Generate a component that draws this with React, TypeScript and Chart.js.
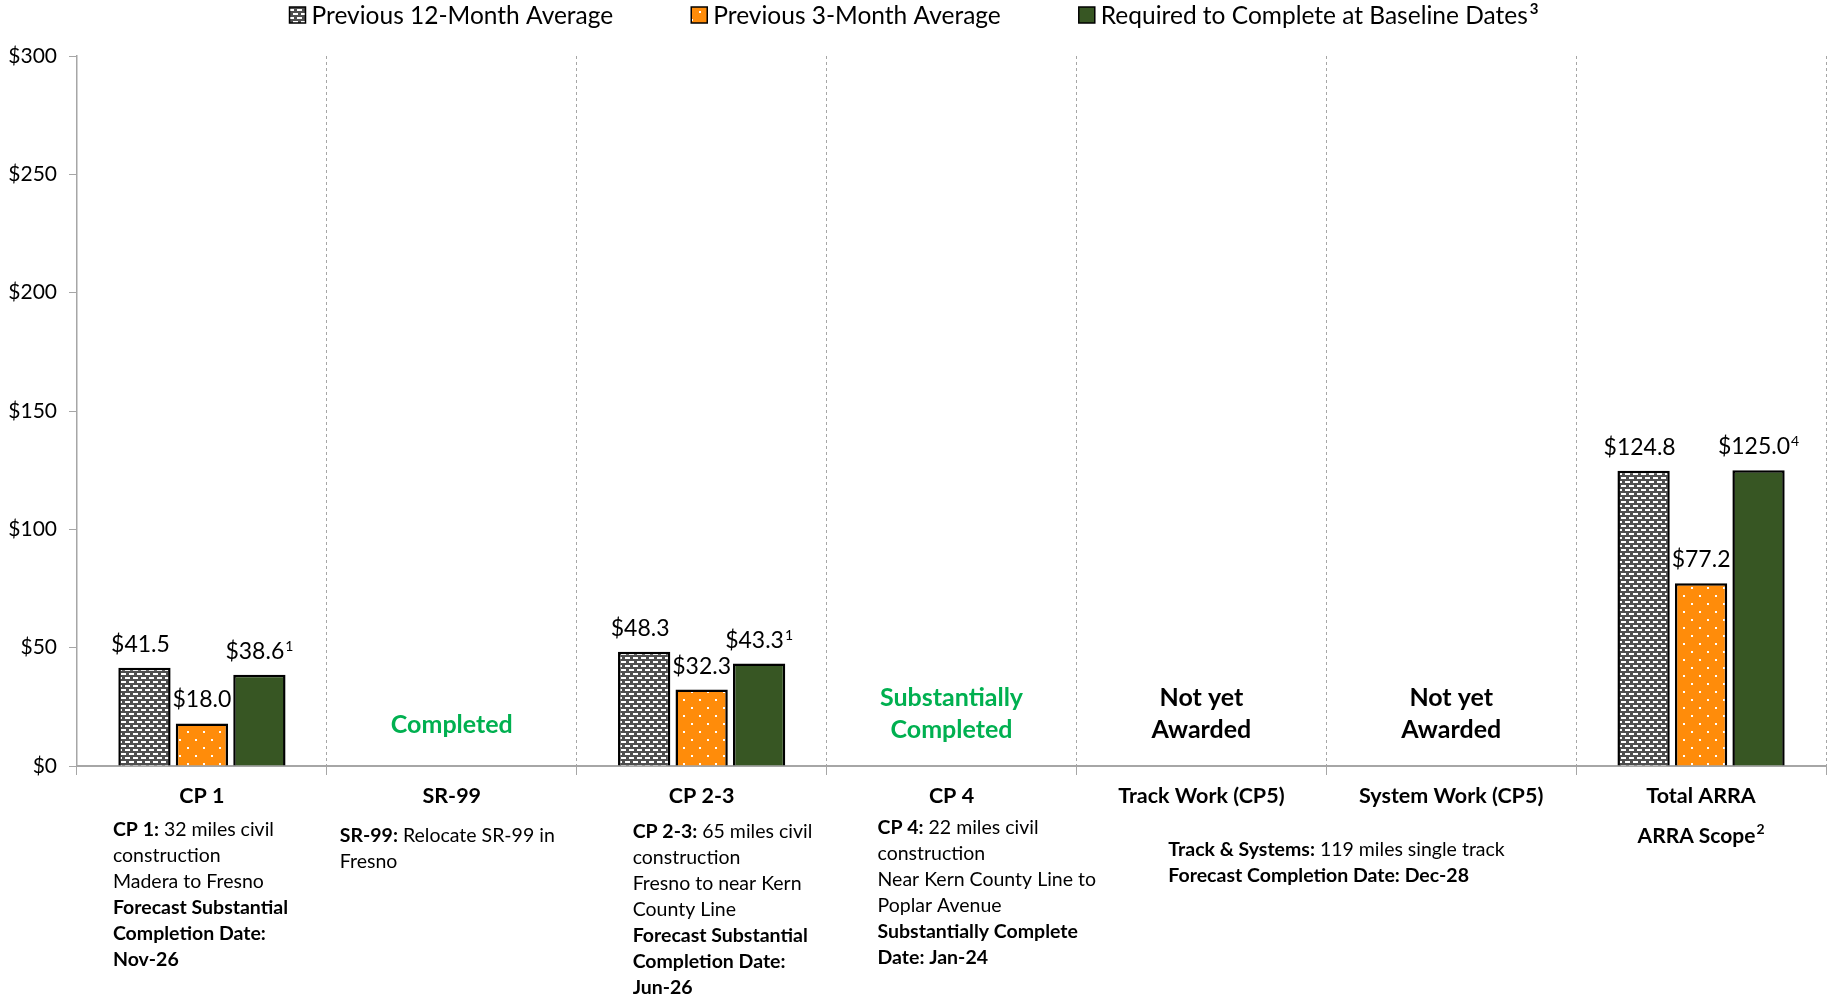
import React, { useEffect, useRef } from "react";
import { Chart, registerables } from "chart.js";

Chart.register(...registerables);

const categories = ["CP 1", "SR-99", "CP 2-3", "CP 4", "Track Work (CP5)", "System Work (CP5)", "Total ARRA"];
const seriesNames = ["Previous 12-Month Average", "Previous 3-Month Average", "Required to Complete at Baseline Dates"];
const seriesNotes = [null, null, "3"];
const prev12 = [41.5, null, 48.3, null, null, null, 124.8];
const prev3 = [18.0, null, 32.3, null, null, null, 77.2];
const required = [38.6, null, 43.3, null, null, null, 125.0];
const requiredNotes = ["1", null, "1", null, null, null, "4"];
const yTicks = [0, 50, 100, 150, 200, 250, 300];

// status annotations inside the plot (per category)
const statusText: (string[] | null)[] = [null, ["Completed"], null, ["Substantially", "Completed"], ["Not yet", "Awarded"], ["Not yet", "Awarded"], null];
const statusGreen = [false, true, false, true, false, false, false];

type Run = [string, boolean];
const descCP1: Run[][] = [
  [["CP 1:", true], [" 32 miles civil", false]],
  [["construction", false]],
  [["Madera to Fresno", false]],
  [["Forecast Substantial", true]],
  [["Completion Date:", true]],
  [["Nov-26", true]],
];
const descSR99: Run[][] = [
  [["SR-99:", true], [" Relocate SR-99 in", false]],
  [["Fresno", false]],
];
const descCP23: Run[][] = [
  [["CP 2-3:", true], [" 65 miles civil", false]],
  [["construction", false]],
  [["Fresno to near Kern", false]],
  [["County Line", false]],
  [["Forecast Substantial", true]],
  [["Completion Date:", true]],
  [["Jun-26", true]],
];
const descCP4: Run[][] = [
  [["CP 4:", true], [" 22 miles civil", false]],
  [["construction", false]],
  [["Near Kern County Line to", false]],
  [["Poplar Avenue", false]],
  [["Substantially Complete", true]],
  [["Date: Jan-24", true]],
];
const descTrackSystems: Run[][] = [
  [["Track & Systems:", true], [" 119 miles single track", false]],
  [["Forecast Completion Date: Dec-28", true]],
];
const descTotal: Run[][] = [[["ARRA Scope", true]]];
const descTotalNote = "2";

// layout of description blocks
const descBlocks: { lines: Run[][]; at: number; dx: number; dy: number; align: "left" | "center"; note?: string }[] = [
  { lines: descCP1, at: 0, dx: -89, dy: 64, align: "left" },
  { lines: descSR99, at: 1, dx: -112, dy: 70, align: "left" },
  { lines: descCP23, at: 2, dx: -69, dy: 66, align: "left" },
  { lines: descCP4, at: 3, dx: -74, dy: 62, align: "left" },
  { lines: descTrackSystems, at: 4, dx: -33, dy: 84, align: "left" },
  { lines: descTotal, at: 6, dx: 0, dy: 70, align: "center", note: descTotalNote },
];

const FONT = "Lato, 'Open Sans', sans-serif";
const GRAY_AXIS = "#A6A6A6";

function makeGrayPattern(): CanvasPattern | string {
  const c = document.createElement("canvas");
  c.width = 8;
  c.height = 8;
  const x = c.getContext("2d");
  if (!x) return "#555";
  x.fillStyle = "#4F4F4F";
  x.fillRect(0, 0, 8, 8);
  x.fillStyle = "#ffffff";
  x.fillRect(1, 1, 5, 2);
  x.fillRect(5, 5, 3, 2);
  x.fillRect(0, 5, 2, 2);
  return x.createPattern(c, "repeat") || "#555";
}

function makeOrangePattern(): CanvasPattern | string {
  const c = document.createElement("canvas");
  c.width = 16;
  c.height = 16;
  const x = c.getContext("2d");
  if (!x) return "#FF8C0A";
  x.fillStyle = "#FF8C0A";
  x.fillRect(0, 0, 16, 16);
  x.fillStyle = "#ffffff";
  x.fillRect(3, 3, 2, 2);
  x.fillRect(11, 11, 2, 2);
  return x.createPattern(c, "repeat") || "#FF8C0A";
}

const customLegend = {
  id: "customLegend",
  afterDraw(chart: any) {
    const ctx = chart.ctx;
    ctx.save();
    ctx.textBaseline = "middle";
    const box = 16;
    const gap = 6;
    const itemGap = 78;
    const items = chart.data.datasets.map((d: any, i: number) => {
      ctx.font = `24.5px ${FONT}`;
      const tw = ctx.measureText(d.label).width;
      ctx.font = `bold 15px ${FONT}`;
      const nw = seriesNotes[i] ? ctx.measureText(seriesNotes[i] as string).width + 2 : 0;
      return { label: d.label as string, note: seriesNotes[i], fill: d.backgroundColor, tw, w: box + gap + tw + nw };
    });
    const total = items.reduce((s: number, it: any) => s + it.w, 0) + itemGap * (items.length - 1);
    let x = chart.width / 2 - total / 2;
    const y = 15;
    for (const it of items) {
      ctx.fillStyle = it.fill;
      ctx.fillRect(x, y - box / 2, box, box);
      ctx.strokeStyle = "#000";
      ctx.lineWidth = 1.5;
      ctx.strokeRect(x, y - box / 2, box, box);
      ctx.fillStyle = "#000";
      ctx.textAlign = "left";
      ctx.font = `24.5px ${FONT}`;
      ctx.fillText(it.label, x + box + gap, y + 1);
      if (it.note) {
        ctx.font = `bold 15px ${FONT}`;
        ctx.fillText(it.note, x + box + gap + it.tw + 2, y - 6);
      }
      x += it.w + itemGap;
    }
    ctx.restore();
  },
};

const valueLabels = {
  id: "valueLabels",
  afterDatasetsDraw(chart: any) {
    const ctx = chart.ctx;
    ctx.save();
    ctx.fillStyle = "#000";
    ctx.textBaseline = "alphabetic";
    chart.data.datasets.forEach((ds: any, di: number) => {
      const meta = chart.getDatasetMeta(di);
      meta.data.forEach((el: any, i: number) => {
        const v = ds.data[i];
        if (v === null || v === undefined) return;
        const main = "$" + Number(v).toFixed(1);
        const note = di === 2 ? requiredNotes[i] : null;
        ctx.font = `23px ${FONT}`;
        const mw = ctx.measureText(main).width;
        ctx.font = `14px ${FONT}`;
        const nw = note ? ctx.measureText(note).width + 1 : 0;
        const start = el.x - (mw + nw) / 2 - (di === 0 ? 4 : 0);
        const base = el.y - 16;
        ctx.font = `23px ${FONT}`;
        ctx.textAlign = "left";
        ctx.fillText(main, start, base);
        if (note) {
          ctx.font = `14px ${FONT}`;
          ctx.fillText(note, start + mw + 1, base - 8);
        }
      });
    });
    ctx.restore();
  },
};

const annotations = {
  id: "annotations",
  afterDraw(chart: any) {
    const ctx = chart.ctx;
    const xs = chart.scales.x;
    const ys = chart.scales.y;
    ctx.save();
    // status text inside plot
    ctx.textAlign = "center";
    ctx.textBaseline = "middle";
    ctx.font = `bold 25px ${FONT}`;
    statusText.forEach((lines, i) => {
      if (!lines) return;
      ctx.fillStyle = statusGreen[i] ? "#00B050" : "#000";
      const cx = xs.getPixelForValue(i);
      const cy = lines.length === 1 ? ys.getPixelForValue(17.3) : ys.getPixelForValue(22);
      const lh = 32;
      lines.forEach((t, k) => {
        ctx.fillText(t, cx, cy + (k - (lines.length - 1) / 2) * lh);
      });
    });
    // descriptions below axis
    ctx.textBaseline = "middle";
    ctx.fillStyle = "#000";
    const axisY = ys.getPixelForValue(0);
    const reg = `19.5px ${FONT}`;
    const bld = `bold 19.5px ${FONT}`;
    descBlocks.forEach((b) => {
      const cx = xs.getPixelForValue(b.at) + b.dx;
      b.lines.forEach((line, k) => {
        const y = axisY + b.dy + k * 26;
        if (b.align === "center") {
          const t = line.map((r) => r[0]).join("");
          ctx.font = `bold 21px ${FONT}`;
          const tw = ctx.measureText(t).width;
          ctx.font = `bold 14px ${FONT}`;
          const nw = b.note ? ctx.measureText(b.note).width + 1 : 0;
          const sx = cx - (tw + nw) / 2;
          ctx.textAlign = "left";
          ctx.font = `bold 21px ${FONT}`;
          ctx.fillText(t, sx, y);
          if (b.note) {
            ctx.font = `bold 14px ${FONT}`;
            ctx.fillText(b.note, sx + tw + 1, y - 7);
          }
          return;
        }
        let x = cx;
        ctx.textAlign = "left";
        line.forEach(([t, bold]) => {
          ctx.font = bold ? bld : reg;
          ctx.fillText(t, x, y);
          x += ctx.measureText(t).width;
        });
      });
    });
    ctx.restore();
  },
};

export default function App() {
  const ref = useRef<HTMLCanvasElement | null>(null);
  useEffect(() => {
    document.body.style.margin = "0";
    if (!ref.current) return;
    const gray = makeGrayPattern();
    const orange = makeOrangePattern();
    const chart = new Chart(ref.current, {
      type: "bar",
      data: {
        labels: categories,
        datasets: [
          { label: seriesNames[0], data: prev12, backgroundColor: gray as any, borderColor: "#000", borderWidth: 2.5 },
          { label: seriesNames[1], data: prev3, backgroundColor: orange as any, borderColor: "#000", borderWidth: 2.5 },
          { label: seriesNames[2], data: required, backgroundColor: "#375623", borderColor: "#000", borderWidth: 2.5 },
        ],
      },
      options: {
        animation: false,
        responsive: true,
        maintainAspectRatio: false,
        layout: { padding: { top: 56, right: 2, left: 0, bottom: 0 } },
        datasets: { bar: { categoryPercentage: 0.69, barPercentage: 0.91 } },
        plugins: { legend: { display: false }, tooltip: { enabled: false } },
        scales: {
          x: {
            afterFit: (s: any) => {
              s.height = 232;
            },
            grid: {
              offset: true,
              color: GRAY_AXIS,
              lineWidth: 1,
              drawTicks: true,
              tickLength: 9,
              tickBorderDash: [1, 0],
              tickColor: GRAY_AXIS,
            } as any,
            border: { display: true, color: GRAY_AXIS, width: 2, dash: [3, 3] },
            ticks: {
              color: "#000",
              padding: 8,
              font: { family: FONT, size: 21.5, weight: "bold" },
              maxRotation: 0,
              autoSkip: false,
            },
          },
          y: {
            min: 0,
            max: 300,
            afterFit: (s: any) => {
              s.width = 77;
            },
            afterBuildTicks: (s: any) => {
              s.ticks = yTicks.map((v) => ({ value: v }));
            },
            grid: { drawOnChartArea: false, drawTicks: true, tickLength: 8, color: GRAY_AXIS },
            border: { display: true, color: GRAY_AXIS, width: 1.5 },
            ticks: {
              color: "#000",
              padding: 12,
              font: { family: FONT, size: 21 },
              callback: (v: any) => "$" + v,
            },
          },
        },
      },
      plugins: [valueLabels, annotations, customLegend],
    });
    return () => chart.destroy();
  }, []);
  return (
    <div style={{ width: 1828, height: 998, position: "relative" }}>
      <canvas ref={ref} />
    </div>
  );
}
